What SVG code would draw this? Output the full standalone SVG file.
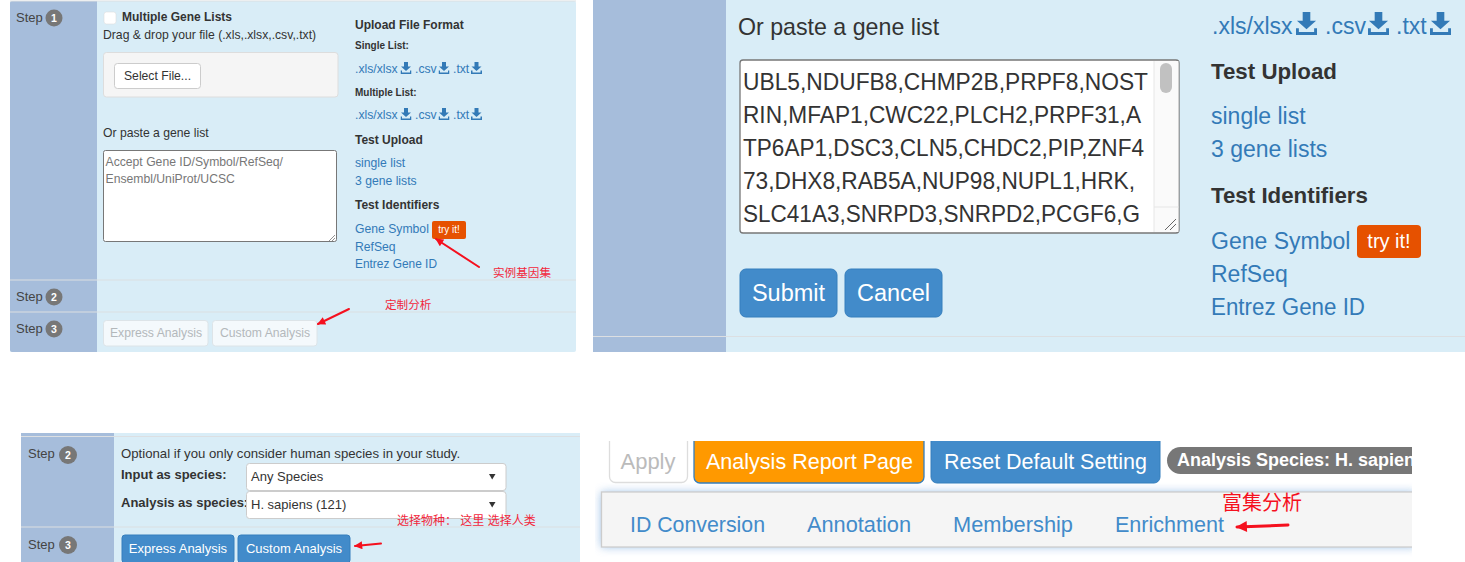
<svg xmlns="http://www.w3.org/2000/svg" xmlns:xlink="http://www.w3.org/1999/xlink" width="1465" height="562" viewBox="0 0 1465 562">
<style>
text{font-family:"Liberation Sans","Noto Sans CJK SC",Arial,sans-serif;fill:#333}
.bg{fill:#d9edf7}.col{fill:#a6bddb}.sep{stroke:#dcdfe2;stroke-width:1.2}
.s{font-size:12.2px}.m{font-size:13px}.b{font-weight:bold}.l{fill:#337ab7}
.step{font-size:13px;fill:#444}.bd{fill:#777}.bt{font-size:10.500px;font-weight:bold;fill:#fff;text-anchor:middle}
.red{fill:#f2283c;font-size:11.6px}
.dis{fill:#f4f9fc;stroke:#dde4e8}.dt{fill:#b3b8bb;font-size:12.2px;text-anchor:middle}
.pb{fill:#428bca;stroke:#357ebd}
.big{font-size:23px}.hd{font-size:22.3px;font-weight:bold}.ta{font-size:24px}.nav{font-size:22px;fill:#428bca}.btn{font-size:22px;fill:#fff;text-anchor:middle}
.arr{fill:none;stroke:#f5101e;stroke-linecap:round}
</style>
<defs>
<marker id="ah" viewBox="0 0 10 10" refX="9" refY="5" markerWidth="9" markerHeight="8" markerUnits="userSpaceOnUse" orient="auto"><path d="M0 0L10 5L0 10z" fill="#f5101e"/></marker>
<marker id="ah2" viewBox="0 0 10 10" refX="9" refY="5" markerWidth="14" markerHeight="11" markerUnits="userSpaceOnUse" orient="auto"><path d="M0 0L10 5L0 10z" fill="#f5101e"/></marker>
<symbol id="dl" viewBox="0 0 22 24"><path fill="#337ab7" d="M7 0h8v9h6L11 18 1 9h6zM0 17h3v4h16v-4h3v7H0z"/></symbol>
<clipPath id="c4"><rect x="595" y="441" width="817" height="121"/></clipPath>
<filter id="glow" x="-5%" y="-40%" width="110%" height="180%"><feGaussianBlur stdDeviation="5"/></filter>
</defs>

<g id="panel-step1">
<rect class="bg" x="10" y="1" width="566" height="351" rx="2"/>
<path class="col" d="M12 1H97V352H12a2 2 0 0 1-2-2V3a2 2 0 0 1 2-2z"/>
<path class="sep" d="M10 280H576M10 312H576M10 1H576"/>
<text class="step" x="16" y="22">Step</text><circle class="bd" cx="54" cy="18" r="8.5"/><text class="bt" x="54" y="21.500">1</text>
<text class="step" x="16" y="301">Step</text><circle class="bd" cx="54" cy="297" r="8.5"/><text class="bt" x="54" y="300.500">2</text>
<text class="step" x="16" y="333">Step</text><circle class="bd" cx="54" cy="329" r="8.5"/><text class="bt" x="54" y="332.500">3</text>
<rect x="104" y="12" width="12" height="12" rx="2.5" fill="#fff" stroke="#ddd" stroke-width=".6"/>
<text class="b" font-size="12" x="122" y="21">Multiple Gene Lists</text>
<text class="s" x="103" y="39">Drag &amp; drop your file (.xls,.xlsx,.csv,.txt)</text>
<rect x="103.500" y="52.500" width="234.500" height="44.500" rx="3" fill="#f5f5f5" stroke="#ddd"/>
<rect x="114.500" y="63.500" width="86" height="25" rx="3" fill="#fff" stroke="#ccc"/>
<text class="s" x="157.500" y="80" text-anchor="middle">Select File...</text>
<text class="s" x="103" y="137">Or paste a gene list</text>
<rect x="103.500" y="150.500" width="233" height="91" rx="2" fill="#fff" stroke="#777"/>
<text class="s" x="105.500" y="166" style="fill:#777">Accept Gene ID/Symbol/RefSeq/</text>
<text class="s" x="105.500" y="183" style="fill:#777">Ensembl/UniProt/UCSC</text>
<path d="M329 241L335 235M332 241L335 238" stroke="#777" fill="none" stroke-width=".8"/>
<text class="b" font-size="12" x="355" y="29">Upload File Format</text>
<text class="b" x="355" y="49" font-size="10">Single List:</text>
<text class="s l" x="355" y="73">.xls/xlsx</text><use xlink:href="#dl" href="#dl" x="400.500" y="62" width="11" height="12"/>
<text class="s l" x="415" y="73">.csv</text><use xlink:href="#dl" href="#dl" x="438.500" y="62" width="11" height="12"/>
<text class="s l" x="453" y="73">.txt</text><use xlink:href="#dl" href="#dl" x="471" y="62" width="11" height="12"/>
<text class="b" x="355" y="96" font-size="10">Multiple List:</text>
<text class="s l" x="355" y="119">.xls/xlsx</text><use xlink:href="#dl" href="#dl" x="400.500" y="108" width="11" height="12"/>
<text class="s l" x="415" y="119">.csv</text><use xlink:href="#dl" href="#dl" x="438.500" y="108" width="11" height="12"/>
<text class="s l" x="453" y="119">.txt</text><use xlink:href="#dl" href="#dl" x="471" y="108" width="11" height="12"/>
<text class="b" font-size="12" x="355" y="144">Test Upload</text>
<text class="s l" x="355" y="167">single list</text>
<text class="s l" x="355" y="185">3 gene lists</text>
<text class="b" font-size="12" x="355" y="209">Test Identifiers</text>
<text class="s l" x="355" y="233">Gene Symbol</text>
<rect x="432" y="221" width="34" height="18" rx="2" fill="#e65100"/>
<text x="449" y="233" font-size="10" text-anchor="middle" style="fill:#fff">try it!</text>
<text class="s l" x="355" y="251">RefSeq</text>
<text class="s l" x="355" y="268" textLength="82" lengthAdjust="spacingAndGlyphs">Entrez Gene ID</text>
<rect class="dis" x="103.500" y="320.500" width="104.500" height="25.500" rx="3"/><text class="dt" x="156" y="337">Express Analysis</text>
<rect class="dis" x="212.500" y="320.500" width="104.500" height="25.500" rx="3"/><text class="dt" x="265" y="337">Custom Analysis</text>
<text class="red" x="493" y="277">实例基因集</text>
<text class="red" x="385" y="309">定制分析</text>
</g>

<g id="panel-gene-list">
<rect class="bg" x="593" y="0" width="872" height="352"/>
<rect class="col" x="593" y="0" width="133" height="352"/>
<path class="sep" d="M593 336.500H1465" stroke-width="1.500"/>
<text x="738" y="35" font-size="23.200">Or paste a gene list</text>
<rect x="740" y="60" width="439" height="173" rx="3" fill="#fff" stroke="#777" stroke-width="1.300"/>
<rect x="1154" y="61" width="24.500" height="171" fill="#fafafa"/>
<path d="M1154 61V232M1154 207H1178.500" stroke="#e6e6e6"/>
<rect x="1160" y="63" width="12" height="30" rx="6" fill="#c1c1c1"/>
<path d="M1165 230L1176 219M1170 230L1176 224" stroke="#666" stroke-width="1"/>
<text class="ta" x="743" y="90" textLength="405" lengthAdjust="spacingAndGlyphs">UBL5,NDUFB8,CHMP2B,PRPF8,NOST</text>
<text class="ta" x="743" y="123" textLength="398" lengthAdjust="spacingAndGlyphs">RIN,MFAP1,CWC22,PLCH2,PRPF31,A</text>
<text class="ta" x="743" y="156" textLength="401" lengthAdjust="spacingAndGlyphs">TP6AP1,DSC3,CLN5,CHDC2,PIP,ZNF4</text>
<text class="ta" x="743" y="189" textLength="392" lengthAdjust="spacingAndGlyphs">73,DHX8,RAB5A,NUP98,NUPL1,HRK,</text>
<text class="ta" x="743" y="222" textLength="397" lengthAdjust="spacingAndGlyphs">SLC41A3,SNRPD3,SNRPD2,PCGF6,G</text>
<rect class="pb" x="740" y="269" width="97" height="48" rx="6"/><text x="788.500" y="301" font-size="23.500" text-anchor="middle" style="fill:#fff">Submit</text>
<rect class="pb" x="845" y="269" width="97" height="48" rx="6"/><text x="893.500" y="301" font-size="23.500" text-anchor="middle" style="fill:#fff">Cancel</text>
<text class="big l" x="1212" y="34">.xls/xlsx</text><use xlink:href="#dl" href="#dl" x="1296" y="12" width="21" height="23"/>
<text class="big l" x="1325" y="34">.csv</text><use xlink:href="#dl" href="#dl" x="1368" y="12" width="21" height="23"/>
<text class="big l" x="1396" y="34">.txt</text><use xlink:href="#dl" href="#dl" x="1430" y="12" width="21" height="23"/>
<text class="hd" x="1211" y="79">Test Upload</text>
<text class="big l" x="1211" y="124">single list</text>
<text class="big l" x="1211" y="157">3 gene lists</text>
<text class="hd" x="1211" y="203">Test Identifiers</text>
<text class="big l" x="1211" y="249">Gene Symbol</text>
<rect x="1357" y="225" width="64" height="33" rx="4" fill="#e65100"/>
<text x="1389" y="248" font-size="20" text-anchor="middle" style="fill:#fff">try it!</text>
<text class="big l" x="1211" y="282">RefSeq</text>
<text class="big l" x="1211" y="315" textLength="154" lengthAdjust="spacingAndGlyphs">Entrez Gene ID</text>
</g>

<g id="panel-species">
<rect class="bg" x="21" y="433" width="559" height="129"/>
<rect class="col" x="21" y="433" width="93" height="129"/>
<path class="sep" d="M21 436.500H580M21 527H580"/>
<text class="step" x="28" y="458">Step</text><circle class="bd" cx="68" cy="455" r="9"/><text class="bt" x="68" y="458.500">2</text>
<text class="step" x="28" y="549">Step</text><circle class="bd" cx="68" cy="545" r="9"/><text class="bt" x="68" y="548.500">3</text>
<text x="121" y="458" font-size="13.200">Optional if you only consider human species in your study.</text>
<text class="m b" x="121" y="479">Input as species:</text>
<text class="m b" x="121" y="507">Analysis as species:</text>
<rect x="246.500" y="463.500" width="259.500" height="27" rx="3" fill="#fff" stroke="#ccc"/>
<text class="m" x="251" y="481">Any Species</text>
<path d="M489 474H495.500L492.200 479.500z" fill="#333"/>
<rect x="246.500" y="491.500" width="259.500" height="27" rx="3" fill="#fff" stroke="#ccc"/>
<text class="m" x="251" y="509">H. sapiens (121)</text>
<path d="M489 502H495.500L492.200 507.500z" fill="#333"/>
<rect class="pb" x="122" y="535" width="112" height="28" rx="3"/><text class="m" x="178" y="553" text-anchor="middle" style="fill:#fff">Express Analysis</text>
<rect class="pb" x="238" y="535" width="112" height="28" rx="3"/><text class="m" x="294" y="553" text-anchor="middle" style="fill:#fff">Custom Analysis</text>
<text class="red" x="397" y="525" style="font-size:12px">选择物种： 这里 选择人类</text>
</g>

<g id="panel-enrichment" clip-path="url(#c4)">
<rect x="601" y="492" width="815" height="55" fill="#8fb8e4" filter="url(#glow)" opacity=".85"/>
<rect x="601.500" y="492" width="815" height="55" fill="#f5f5f5" stroke="#ccc" stroke-width="1.300"/>
<rect x="609.500" y="435" width="78" height="47.500" rx="6" fill="#fff" stroke="#ddd" stroke-width="1.300"/>
<text class="btn" x="648" y="469" textLength="55" lengthAdjust="spacingAndGlyphs" style="fill:#bbb">Apply</text>
<rect x="694" y="435" width="230" height="48" rx="6" fill="#ff9900" stroke="#357ebd" stroke-width="1.300"/>
<text class="btn" x="809.500" y="469" textLength="207" lengthAdjust="spacingAndGlyphs">Analysis Report Page</text>
<rect class="pb" x="931" y="435" width="229" height="48" rx="6"/>
<text class="btn" x="1045.500" y="469" textLength="203" lengthAdjust="spacingAndGlyphs">Reset Default Setting</text>
<rect x="1167" y="447" width="290" height="27" rx="13.500" fill="#777"/>
<text class="b" x="1177" y="466" font-size="18" style="fill:#fff">Analysis Species: H. sapiens</text>
<text class="nav" x="630" y="532" textLength="135" lengthAdjust="spacingAndGlyphs">ID Conversion</text>
<text class="nav" x="807" y="532" textLength="104" lengthAdjust="spacingAndGlyphs">Annotation</text>
<text class="nav" x="953" y="532" textLength="120" lengthAdjust="spacingAndGlyphs">Membership</text>
<text class="nav" x="1115" y="532" textLength="109" lengthAdjust="spacingAndGlyphs">Enrichment</text>
<text x="1222" y="510" font-size="20" style="fill:#f5101e">富集分析</text>
</g>

<g id="connectors">
<path class="arr" stroke-width="2" marker-end="url(#ah)" d="M479 267L436 239"/>
<path class="arr" stroke-width="2" marker-end="url(#ah)" d="M349 309L318 324"/>
<path class="arr" stroke-width="2" marker-end="url(#ah)" d="M381 543.500L355 546"/>
<path class="arr" stroke-width="3" marker-end="url(#ah2)" d="M1288 525L1237 527"/>
</g>
</svg>
